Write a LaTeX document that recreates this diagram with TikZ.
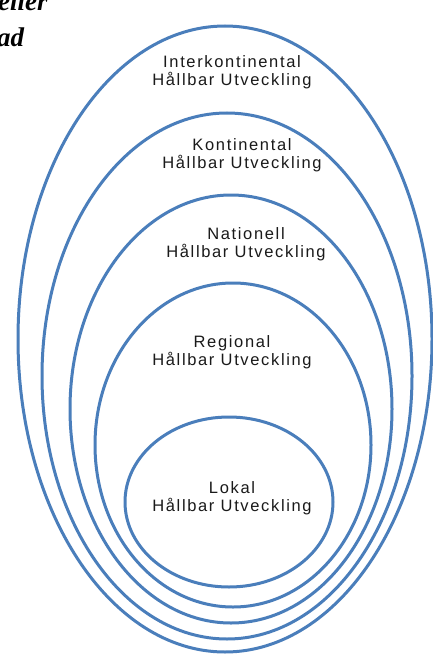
\documentclass[tikz,border=0pt]{standalone}
\usepackage{fontspec}
\setmainfont{Liberation Sans}
\newfontfamily\labelfont[LetterSpace=10]{Liberation Sans}
\newfontfamily\headfont{Liberation Serif}
\definecolor{ringblue}{HTML}{4A7EBB}
\definecolor{labelgray}{HTML}{1A1A1A}
\begin{document}
\begin{tikzpicture}[x=1bp,y=-1bp,
  ring/.style={draw=ringblue,line width=3bp},
  levellabel/.style={align=center,text=labelgray,inner sep=0pt,
    font=\labelfont\fontsize{16.5bp}{18bp}\selectfont},
  headtext/.style={anchor=base west,inner sep=0pt,
    font=\headfont\bfseries\itshape\fontsize{27bp}{36bp}\selectfont}]
  \useasboundingbox (0,0) rectangle (433,655);
  \clip (0,0) rectangle (433,655);
  \fill[white] (0,0) rectangle (433,655);

  % heading fragments at the upper left
  \node[headtext] (eller) at (-2,11) {eller};
  \node[headtext] (ad) at (-3,47) {ad};

  % nested rings, outer to inner
  \draw[ring] (225,339) ellipse [x radius=207,y radius=313];
  \draw[ring] (227,376) ellipse [x radius=185,y radius=263];
  \draw[ring] (231,409) ellipse [x radius=161,y radius=214];
  \draw[ring] (233,445) ellipse [x radius=138,y radius=162];
  \draw[ring] (229,502) ellipse [x radius=104,y radius=85];

  % ring labels
  \node[levellabel] (inter) at (232,72) {Interkontinental\\Hållbar Utveckling};
  \node[levellabel] (kont) at (242,155) {Kontinental\\Hållbar Utveckling};
  \node[levellabel] (nat) at (246,244) {Nationell\\Hållbar Utveckling};
  \node[levellabel] (reg) at (232,352) {Regional\\Hållbar Utveckling};
  \node[levellabel] (lok) at (232,498) {Lokal\\Hållbar Utveckling};
\end{tikzpicture}
\end{document}
